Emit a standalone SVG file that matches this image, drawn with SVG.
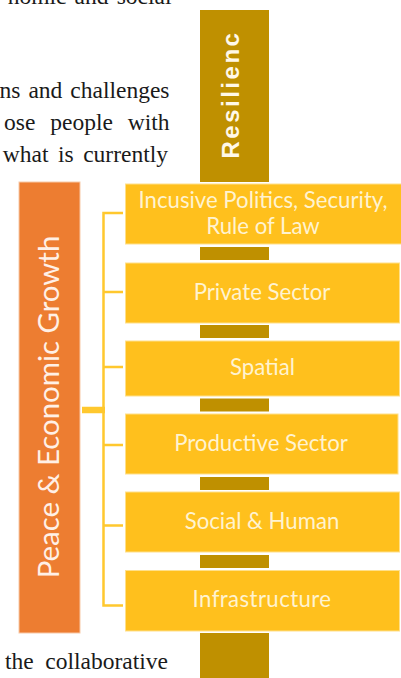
<svg xmlns="http://www.w3.org/2000/svg" width="401" height="678" viewBox="0 0 401 678">
<style>
.body{font-family:"Liberation Serif","Times New Roman",serif;font-size:23.5px;fill:#1a1a1a;text-anchor:end}
.gold{fill:#bf9000}
.box{fill:#ffc01d;stroke:#ffe08a;stroke-width:1}
.lab{font-family:Lato,"Noto Sans",sans-serif;font-size:22.200px;fill:#fff3d0;text-anchor:middle}
.conn{fill:none;stroke:#ffc82e;stroke-width:2.5}
</style>
<rect width="401" height="678" fill="#fff"/>
<g id="page-text">
<text class="body" x="171.500" y="4" word-spacing="2.300">nomic and social</text>
<text class="body" x="169.500" y="98" word-spacing="2.100">ns and challenges</text>
<text class="body" x="169.500" y="130" word-spacing="9">ose people with</text>
<text class="body" x="168" y="162" word-spacing="3.600">what is currently</text>
<text class="body" x="168" y="669" word-spacing="5.700">the collaborative</text>
</g>
<g id="resilience-pillar">
<rect class="gold" x="200" y="10" width="69" height="172"/>
<rect class="gold" x="200" y="247" width="69" height="13"/>
<rect class="gold" x="200" y="325" width="69" height="13"/>
<rect class="gold" x="200" y="398.500" width="69" height="13"/>
<rect class="gold" x="200" y="477" width="69" height="13"/>
<rect class="gold" x="200" y="555" width="69" height="13"/>
<rect class="gold" x="200" y="633" width="69" height="45"/>
<text transform="translate(238.500 158.500) rotate(-90)" font-family="Liberation Sans,Arial,sans-serif" font-size="24" font-weight="700" letter-spacing="2.500" fill="#fff8e8">Resilienc</text>
</g>
<g id="peace-growth">
<rect x="19" y="182" width="61" height="451" fill="#ed7d31" stroke="#f8c9a8" stroke-width="1"/>
<text transform="translate(58.500 407) rotate(-90)" font-family="Lato,Noto Sans,sans-serif" font-size="29.400" fill="#fff0e6" text-anchor="middle">Peace &amp; Economic Growth</text>
</g>
<g id="connectors">
<path class="conn" d="M123 213H103.500V605.500H123M103.500 292H123M103.500 367H123M103.500 445H123M103.500 525.500H123"/>
<path d="M82 410H105" fill="none" stroke="#ffc82e" stroke-width="6.500"/>
</g>
<g id="n1"><rect class="box" x="125.500" y="184" width="276" height="60"/><text class="lab" x="263" y="208">Incusive Politics, Security,</text><text class="lab" x="263" y="234">Rule of Law</text></g>
<g id="n2"><rect class="box" x="125.500" y="263" width="274" height="60"/><text class="lab" x="262" y="300">Private Sector</text></g>
<g id="n3"><rect class="box" x="125.500" y="341" width="274" height="55"/><text class="lab" x="262.500" y="375">Spatial</text></g>
<g id="n4"><rect class="box" x="125.500" y="414" width="272.500" height="60"/><text class="lab" x="261" y="451">Productive Sector</text></g>
<g id="n5"><rect class="box" x="125.500" y="492" width="274" height="60"/><text class="lab" x="262" y="529">Social &amp; Human</text></g>
<g id="n6"><rect class="box" x="125.500" y="570.500" width="274" height="60.500"/><text class="lab" x="262" y="607" letter-spacing="0.400">Infrastructure</text></g>
</svg>
